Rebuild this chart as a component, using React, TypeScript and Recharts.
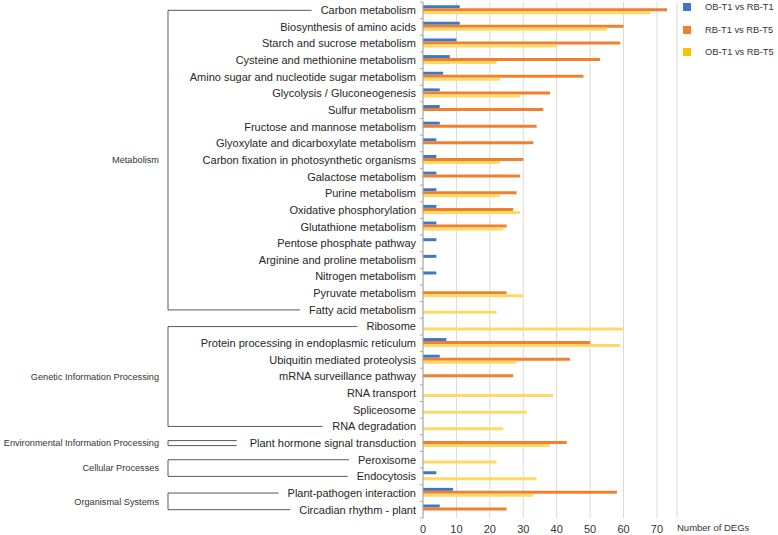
import React from 'react';
import { BarChart, Bar, XAxis, YAxis, CartesianGrid } from 'recharts';

const pathways = [
  'Carbon metabolism',
  'Biosynthesis of amino acids',
  'Starch and sucrose metabolism',
  'Cysteine and methionine metabolism',
  'Amino sugar and nucleotide sugar metabolism',
  'Glycolysis / Gluconeogenesis',
  'Sulfur metabolism',
  'Fructose and mannose metabolism',
  'Glyoxylate and dicarboxylate metabolism',
  'Carbon fixation in photosynthetic organisms',
  'Galactose metabolism',
  'Purine metabolism',
  'Oxidative phosphorylation',
  'Glutathione metabolism',
  'Pentose phosphate pathway',
  'Arginine and proline metabolism',
  'Nitrogen metabolism',
  'Pyruvate metabolism',
  'Fatty acid metabolism',
  'Ribosome',
  'Protein processing in endoplasmic reticulum',
  'Ubiquitin mediated proteolysis',
  'mRNA surveillance pathway',
  'RNA transport',
  'Spliceosome',
  'RNA degradation',
  'Plant hormone signal transduction',
  'Peroxisome',
  'Endocytosis',
  'Plant-pathogen interaction',
  'Circadian rhythm - plant',
];

const obT1vsRbT1 = [11, 11, 10, 8, 6, 5, 5, 5, 4, 4, 4, 4, 4, 4, 4, 4, 4, null, null, null, 7, 5, null, null, null, null, null, null, 4, 9, 5];
const rbT1vsRbT5 = [73, 60, 59, 53, 48, 38, 36, 34, 33, 30, 29, 28, 27, 25, null, null, null, 25, null, null, 50, 44, 27, null, null, null, 43, null, null, 58, 25];
const obT1vsRbT5 = [68, 55, 40, 22, 23, 29, null, null, null, 23, null, 23, 29, 24, null, null, null, 30, 22, 60, 59, 28, null, 39, 31, 24, 38, 22, 34, 33, null];

const seriesNames = ['OB-T1 vs RB-T1', 'RB-T1 vs RB-T5', 'OB-T1 vs RB-T5'];
const xTicks = [0, 10, 20, 30, 40, 50, 60, 70];

// KEGG level-1 groups: first and last pathway index
const groups = [
  { name: 'Metabolism', start: 0, end: 18 },
  { name: 'Genetic Information Processing', start: 19, end: 25 },
  { name: 'Environmental Information Processing', start: 26, end: 26 },
  { name: 'Cellular Processes', start: 27, end: 28 },
  { name: 'Organismal Systems', start: 29, end: 30 },
];

const data = pathways.map((name, i) => ({
  name,
  a: obT1vsRbT1[i],
  b: rbT1vsRbT5[i],
  c: obT1vsRbT5[i],
}));

const W = 778;
const H = 535;
const M = { top: 2, right: 101, bottom: 0, left: 0 };
const X_AXIS_H = 17;
const Y_AXIS_W = 423;
const BAND = (H - M.top - M.bottom - X_AXIS_H) / pathways.length;
const BRACKET_X = 168;
const FONT = '"Liberation Sans", Arial, sans-serif';

const canvas = typeof document !== 'undefined' ? document.createElement('canvas') : null;
const measure = (s: string, size: number) => {
  const ctx = canvas && canvas.getContext('2d');
  if (!ctx) return s.length * size * 0.5;
  ctx.font = `${size}px ${FONT}`;
  return ctx.measureText(s).width;
};

const PathwayTick = ({ x, y, payload, index }: any) => {
  const label = payload.value as string;
  const textStart = x - measure(label, 11);
  const axisX = x + 7;
  const g = groups.find((gr) => gr.start === index);
  const parts: React.ReactNode[] = [];
  if (g) {
    const yEnd = y + (g.end - g.start) * BAND;
    if (g.start === g.end) {
      parts.push(
        <path key="b" d={`M${textStart - 13},${y - 2.5}H${BRACKET_X}V${y + 2.5}H${textStart - 13}`} fill="none" stroke="#595959" strokeWidth={1} />
      );
    } else {
      const lastLabel = pathways[g.end];
      const lastStart = x - measure(lastLabel, 11);
      parts.push(
        <path key="b" d={`M${textStart - 9},${y}H${BRACKET_X}V${yEnd}H${lastStart - 9}`} fill="none" stroke="#595959" strokeWidth={1} />
      );
    }
    parts.push(
      <text key="g" x={BRACKET_X - 9} y={(y + yEnd) / 2} dy="0.35em" textAnchor="end" fontSize={9.2} fill="#333" fontFamily={FONT}>
        {g.name}
      </text>
    );
  }
  return (
    <g>
      {parts}
      <line x1={axisX - 3} x2={axisX} y1={y - BAND / 2} y2={y - BAND / 2} stroke="#a6a6a6" />
      {index === pathways.length - 1 && (
        <line x1={axisX - 3} x2={axisX} y1={y + BAND / 2} y2={y + BAND / 2} stroke="#a6a6a6" />
      )}
      <text x={x} y={y} dy="0.35em" textAnchor="end" fontSize={11} fill="#262626" fontFamily={FONT}>
        {label}
      </text>
    </g>
  );
};

const legendColors = ['#3d78c2', '#f07f2e', '#ffc000'];

export default function App() {
  return (
    <div style={{ position: 'absolute', left: 0, top: 0, width: W, height: H, background: '#fff', overflow: 'hidden' }}>
      <BarChart
        width={W}
        height={H}
        data={data}
        layout="vertical"
        margin={M}
        barCategoryGap="19%"
        barGap={0}
      >
        <CartesianGrid horizontal={false} stroke="#d9d9d9" />
        <XAxis
          type="number"
          domain={[0, 76]}
          ticks={xTicks}
          height={X_AXIS_H}
          axisLine={false}
          tickLine={false}
          tickSize={0}
          tickMargin={7}
          tick={{ fontSize: 11, fill: '#333', fontFamily: FONT }}
        />
        <YAxis
          type="category"
          dataKey="name"
          width={Y_AXIS_W}
          interval={0}
          tickLine={false}
          tickSize={0}
          tickMargin={7}
          axisLine={{ stroke: '#a6a6a6' }}
          tick={<PathwayTick />}
        />
        <Bar dataKey="a" name={seriesNames[0]} fill="#3d78c2" isAnimationActive={false} />
        <Bar dataKey="b" name={seriesNames[1]} fill="#f07f2e" isAnimationActive={false} />
        <Bar dataKey="c" name={seriesNames[2]} fill="#ffd966" isAnimationActive={false} />
      </BarChart>
      <div style={{ position: 'absolute', left: 683, top: -4, fontFamily: FONT, fontSize: 9.3, color: '#333', whiteSpace: 'nowrap' }}>
        {seriesNames.map((s, i) => (
          <div key={s} style={{ display: 'flex', alignItems: 'center', height: 22.5 }}>
            <span style={{ width: 8, height: 8, background: legendColors[i], marginRight: 14, flex: 'none' }} />
            <span>{s}</span>
          </div>
        ))}
      </div>
      <div style={{ position: 'absolute', left: 677, top: 522, fontFamily: FONT, fontSize: 9.5, color: '#333', whiteSpace: 'nowrap' }}>
        Number of DEGs
      </div>
    </div>
  );
}
